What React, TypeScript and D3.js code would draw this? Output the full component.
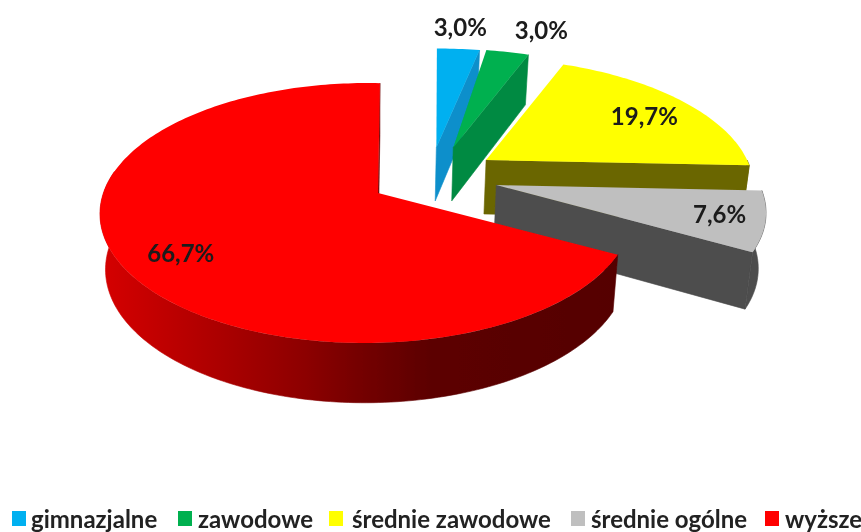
import React from 'react';
import * as d3 from 'd3';

const categories = ['gimnazjalne', 'zawodowe', 'średnie zawodowe', 'średnie ogólne', 'wyższe'];
const values = [3.0, 3.0, 19.7, 7.6, 66.7];
const valueLabels = ['3,0%', '3,0%', '19,7%', '7,6%', '66,7%'];

const topColors = ['#00b0f0', '#00b050', '#ffff00', '#bfbfbf', '#ff0000'];
const sideColors = ['#0a8fcb', '#008a43', '#6b6600', '#4d4d4d', 'url(#redSide)'];

// how far each slice was pulled out, in disc units
const explodeX = [0.225, 0.29, 0.41, 0.435, 0];
const explodeY = [-0.38, -0.38, -0.27, -0.063, 0];
// the original's rims do not sit quite on a circle round the apex
const rimShiftX = [0.035, 0, 0.04, -0.012, -0.042];
const rimScaleX = [1, 1, 0.95, 0.98, 0.958];
const rimStartNudge = [0, 0, 0, 0, -3];
const rimEndNudge = [0, 0, 0, 0, 3];

const labelRadius = [1.25, 1.3, 0.76, 0.81, 0.78];
const labelShiftX = [7, 20, 6, 0, 0];
const labelShiftY = [0, 3, 2, 0, 8];

const legendSwatchX = [12, 178, 329, 571, 765];
const legendTextX = [31, 198, 352, 591, 785];

const width = 861;
const height = 532;
const cx = 378;
const cy = 193;
const radiusX = 274.6;
const radiusY = 126.9;
const persp = 0.1538;
const depth = 55;
const toRad = Math.PI / 180;

// disc point -> screen, with the near side drawn larger
const project = (X: number, Y: number) => {
  const w = 1 - persp * Y;
  return { x: cx + (radiusX * X) / w, y: cy + (radiusY * Y) / w, w };
};

const lower = (p: { x: number; y: number; w: number }) => ({
  x: cx + (p.x - cx) * 0.98,
  y: p.y + depth / Math.sqrt(p.w),
  w: p.w,
});

const line = d3.line<{ x: number; y: number }>().x(d => d.x).y(d => d.y);

const pie = d3.pie<number>().sort(null).value(d => d);

const angleSteps = (a0: number, a1: number) => {
  const n = Math.max(2, Math.ceil((a1 - a0) / 0.02));
  return d3.range(n + 1).map(i => a0 + ((a1 - a0) * i) / n);
};

const App: React.FC = () => {
  const arcs = pie(values);

  const slices = arcs.map((arc, i) => {
    const start = arc.startAngle + rimStartNudge[i] * toRad;
    const end = arc.endAngle + rimEndNudge[i] * toRad;
    const rim = (a: number) =>
      project(explodeX[i] + rimShiftX[i] + rimScaleX[i] * Math.sin(a), explodeY[i] - Math.cos(a));
    const apex = project(explodeX[i], explodeY[i]);
    const rimPts = angleSteps(start, end).map(rim);
    const top = line([apex, ...rimPts])! + 'Z';

    const endRim = rim(end);
    const endWall = line([apex, endRim, lower(endRim), lower(apex)])! + 'Z';

    // outer wall only where the rim faces the viewer
    const a0 = Math.max(start, Math.PI / 2);
    const a1 = Math.min(end, 280 * toRad);
    let outerWall = '';
    if (a1 > a0) {
      const pts = angleSteps(a0, a1).map(rim);
      outerWall = line([...pts, ...pts.map(lower).reverse()])! + 'Z';
    }

    const mid = (start + end) / 2;
    const p = project(
      explodeX[i] + labelRadius[i] * Math.sin(mid),
      explodeY[i] - labelRadius[i] * Math.cos(mid)
    );
    return { top, endWall, outerWall, label: { x: p.x + labelShiftX[i], y: p.y + labelShiftY[i] } };
  });

  return (
    <svg
      width={width}
      height={height}
      viewBox={`0 0 ${width} ${height}`}
      style={{ position: 'absolute', left: 0, top: 0, background: '#fff' }}
      fontFamily="Lato, 'Open Sans', sans-serif"
    >
      <defs>
        <linearGradient id="redSide" gradientUnits="userSpaceOnUse" x1={105} x2={622} y1={0} y2={0}>
          <stop offset="0" stopColor="#d40000" />
          <stop offset="0.197" stopColor="#b00000" />
          <stop offset="0.39" stopColor="#8c0000" />
          <stop offset="0.49" stopColor="#750000" />
          <stop offset="0.63" stopColor="#5c0000" />
          <stop offset="1" stopColor="#550000" />
        </linearGradient>
        <filter id="soft" x="-5%" y="-5%" width="110%" height="110%">
          <feGaussianBlur stdDeviation="0.6" />
        </filter>
      </defs>
      <g filter="url(#soft)">
        {slices.map((s, i) => (
          <g key={categories[i]}>
            <path d={s.endWall} fill={sideColors[i]} stroke={sideColors[i]} strokeWidth={0.6} />
            {s.outerWall && (
              <path d={s.outerWall} fill={sideColors[i]} stroke={sideColors[i]} strokeWidth={0.6} />
            )}
            <path d={s.top} fill={topColors[i]} />
          </g>
        ))}
        {slices.map((s, i) => (
          <text
            key={categories[i]}
            x={s.label.x}
            y={s.label.y}
            dy="0.35em"
            textAnchor="middle"
            fontSize={24}
            fontWeight={700}
            fill="#1a1a1a"
          >
            {valueLabels[i]}
          </text>
        ))}
        {categories.map((c, i) => (
          <g key={c}>
            <rect x={legendSwatchX[i]} y={511} width={14} height={15} fill={topColors[i]} />
            <text x={legendTextX[i]} y={528} fontSize={24} fontWeight={700} fill="#222">
              {c}
            </text>
          </g>
        ))}
      </g>
    </svg>
  );
};

export default App;
